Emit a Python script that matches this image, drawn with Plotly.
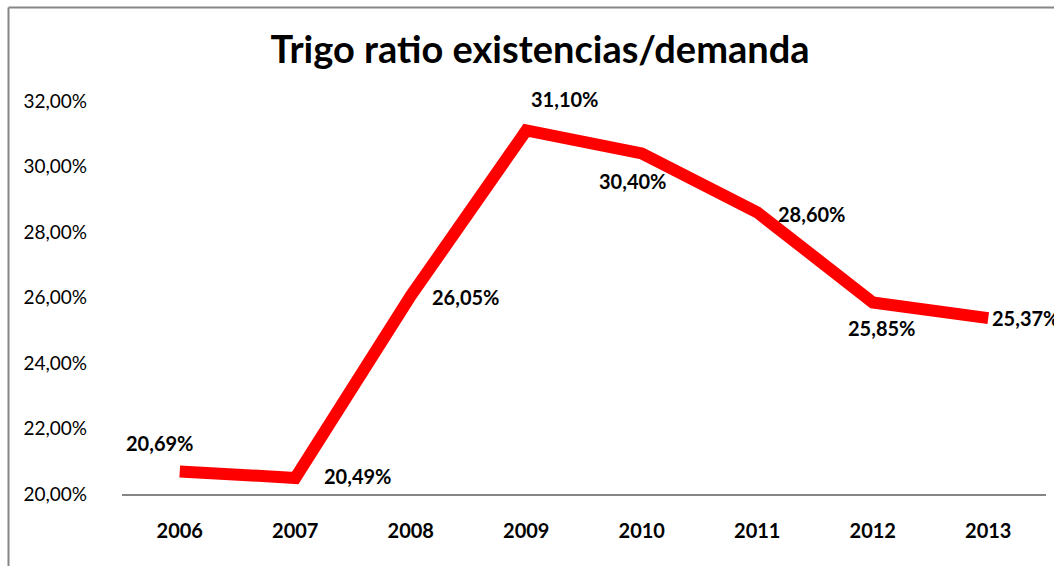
import plotly.graph_objects as go

years = ["2006", "2007", "2008", "2009", "2010", "2011", "2012", "2013"]
ratio = [0.2069, 0.2049, 0.2605, 0.3110, 0.3040, 0.2860, 0.2585, 0.2537]
labels = ["20,69%", "20,49%", "26,05%", "31,10%", "30,40%", "28,60%", "25,85%", "25,37%"]
y_ticks = [0.20, 0.22, 0.24, 0.26, 0.28, 0.30, 0.32]

# label offsets (pixels) relative to each point
label_dx = [-20, 62, 55, 38, -9, 54, 9, 37]
label_dy = [28, 2, -1, 31, -28, -2, -26, 0]

FONT = "Lato, 'Open Sans', sans-serif"

fig = go.Figure()
fig.add_trace(go.Scatter(
    x=years, y=ratio, mode="lines",
    line=dict(color="#FF0000", width=12),
    cliponaxis=False, hoverinfo="skip", showlegend=False,
))

for i, (v, t, dx, dy) in enumerate(zip(ratio, labels, label_dx, label_dy)):
    fig.add_annotation(x=i, y=v, xref="x", yref="y", text="<b>" + t + "</b>", showarrow=False,
                       xshift=dx, yshift=dy,
                       font=dict(family=FONT, size=20, color="#000000"))

L, R, T, B = 122, 8, 101, 72
W, H = 1054, 566
pw, ph = W - L - R, H - T - B

bx = (8.5 - L) / pw
by = 1 + (T - 7.5) / ph
fig.add_shape(type="line", xref="paper", yref="paper",
              x0=bx, x1=1 + R / pw, y0=by, y1=by,
              line=dict(color="#868686", width=2), layer="below")
fig.add_shape(type="line", xref="paper", yref="paper",
              x0=bx, x1=bx, y0=-B / ph, y1=by,
              line=dict(color="#868686", width=2), layer="below")

fig.update_layout(
    width=W, height=H,
    margin=dict(l=L, r=R, t=T, b=B),
    paper_bgcolor="white", plot_bgcolor="white",
    separators=",.",
    title=dict(text="<b>Trigo ratio existencias/demanda</b>", x=(540 - L) / pw, xref="paper",
               xanchor="center", y=1 - 50 / H, yanchor="middle",
               font=dict(family=FONT, size=38, color="#000000")),
    xaxis=dict(type="category", range=[-0.5, 7.5], showgrid=False,
               showline=True, linecolor="#868686", linewidth=1.5,
               ticks="", ticklabelstandoff=18,
               tickfont=dict(family=FONT, size=20, color="#000000", weight="bold")),
    yaxis=dict(range=[0.20, 0.32], tickvals=y_ticks, tickformat=".2%",
               showgrid=False, showline=False, zeroline=False, ticks="",
               ticklabelstandoff=34,
               tickfont=dict(family=FONT, size=19, color="#000000")),
)

fig.write_html("out.html", config={"displayModeBar": False},
               post_script="document.body.style.margin='0';")
